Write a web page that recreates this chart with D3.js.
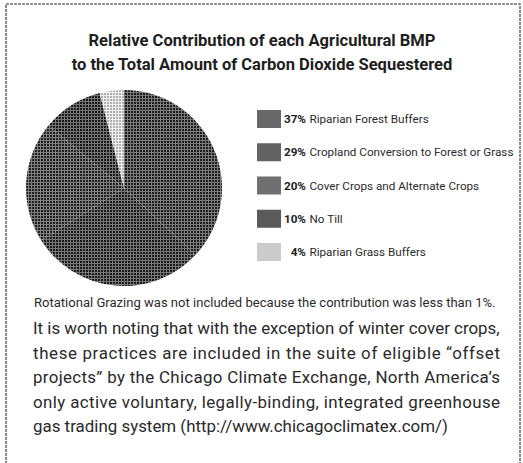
<!DOCTYPE html>
<html><head><meta charset="utf-8">
<script src="https://cdn.jsdelivr.net/npm/d3@7"></script>
<style>body{margin:0;background:#fff} svg{display:block}</style>
</head><body><svg id="chart" width="523" height="463"></svg>
<script>
const categories = ["Riparian Forest Buffers", "Cropland Conversion to Forest or Grass", "Cover Crops and Alternate Crops", "No Till", "Riparian Grass Buffers"];
const percentValues = [37, 29, 20, 10, 4];
const percentLabels = ["37%", "29%", "20%", "10%", "4%"];
const titleLines = ["Relative Contribution of each Agricultural BMP", "to the Total Amount of Carbon Dioxide Sequestered"];
const footnote = "Rotational Grazing was not included because the contribution was less than 1%.";
const paragraphLines = [
  "It is worth noting that with the exception of winter cover crops,",
  "these practices are included in the suite of eligible \u201coffset",
  "projects\u201d by the Chicago Climate Exchange, North America\u2019s",
  "only active voluntary, legally-binding, integrated greenhouse",
  "gas trading system (http://www.chicagoclimatex.com/)"
];

const FONT = "Roboto, 'Liberation Sans', sans-serif";
const svg = d3.select("#chart");

function fitSize(str, weight, target, base) {
  const t = svg.append("text").attr("font-family", FONT).attr("font-weight", weight)
    .attr("font-size", base).text(str);
  const w = t.node().getComputedTextLength();
  t.remove();
  return base * target / w;
}

// halftone-like patterns
const patternBase = d3.scaleOrdinal().domain(categories).range(["#1d1d1d", "#1a1a1a", "#202020", "#181818", "#b0b0b0"]);
const patternLine = d3.scaleOrdinal().domain(categories).range(["#7c7c7c", "#787878", "#808080", "#767676", "#efefef"]);
const swatchFill = d3.scaleOrdinal().domain(categories).range(["#686868", "#626262", "#707070", "#5a5a5a", "#cbcbcb"]);
const defs = svg.append("defs");
categories.forEach((c, i) => {
  const p = defs.append("pattern").attr("id", "pat" + i).attr("patternUnits", "userSpaceOnUse")
    .attr("width", 3).attr("height", 3);
  p.append("rect").attr("width", 3).attr("height", 3).attr("fill", patternBase(c));
  p.append("rect").attr("width", 3).attr("height", 1).attr("fill", patternLine(c));
  p.append("rect").attr("width", 1).attr("height", 3).attr("fill", patternLine(c));
});

// frame
svg.append("rect").attr("x", 6).attr("y", 4).attr("width", 514).attr("height", 480)
  .attr("fill", "none").attr("stroke", "#6e6e6e").attr("stroke-width", 1.6).attr("stroke-dasharray", "3,1");

// title
const titleSize = fitSize(titleLines[1], "bold", 381, 16);
svg.selectAll("text.title").data(titleLines).join("text").attr("class", "title")
  .attr("x", 262).attr("y", (d, i) => 46 + i * 23.5)
  .attr("text-anchor", "middle").attr("font-family", FONT).attr("font-weight", "bold")
  .attr("font-size", titleSize).attr("fill", "#1e1e1e")
  .text(d => d);

// pie
const pieData = categories.map((c, i) => ({ category: c, value: percentValues[i] }));
const pie = d3.pie().sort(null).value(d => d.value);
const radius = 98;
const arc = d3.arc().innerRadius(0).outerRadius(radius);
const g = svg.append("g").attr("transform", "translate(124,188)");
g.selectAll("path").data(pie(pieData)).join("path")
  .attr("d", arc)
  .attr("fill", d => "url(#pat" + categories.indexOf(d.data.category) + ")");

// legend
const legendSize = fitSize(categories[1], "normal", 204, 12);
const legendY = d3.scalePoint().domain(categories).range([119, 252]);
const lg = svg.append("g");
lg.selectAll("rect").data(categories).join("rect")
  .attr("x", 257).attr("y", d => legendY(d) - 9).attr("width", 24).attr("height", 18)
  .attr("fill", d => swatchFill(d));
lg.selectAll("text.pct").data(categories).join("text").attr("class", "pct")
  .attr("x", 306).attr("y", d => legendY(d) + legendSize * 0.36).attr("text-anchor", "end")
  .attr("font-family", FONT).attr("font-weight", "bold").attr("font-size", legendSize).attr("fill", "#222")
  .text((d, i) => percentLabels[i]);
lg.selectAll("text.lab").data(categories).join("text").attr("class", "lab")
  .attr("x", 309.5).attr("y", d => legendY(d) + legendSize * 0.36)
  .attr("font-family", FONT).attr("font-size", legendSize).attr("fill", "#2a2a2a")
  .text(d => d);

// footnote
const footSize = fitSize(footnote, "normal", 462, 12);
svg.append("text").attr("x", 34).attr("y", 307).attr("font-family", FONT).attr("font-size", footSize)
  .attr("fill", "#2a2a2a").text(footnote);

// paragraph
const paraSize = fitSize(paragraphLines[0], "normal", 467, 18);
svg.selectAll("text.para").data(paragraphLines).join("text").attr("class", "para")
  .attr("x", 33).attr("y", (d, i) => 334 + i * 24.6)
  .attr("font-family", FONT).attr("font-size", paraSize).attr("fill", "#2a2a2a")
  .each(function (d, i) {
    if (i > 0 && i < 4) d3.select(this).attr("textLength", 467).attr("lengthAdjust", "spacing");
  })
  .text(d => d);
</script></body></html>
